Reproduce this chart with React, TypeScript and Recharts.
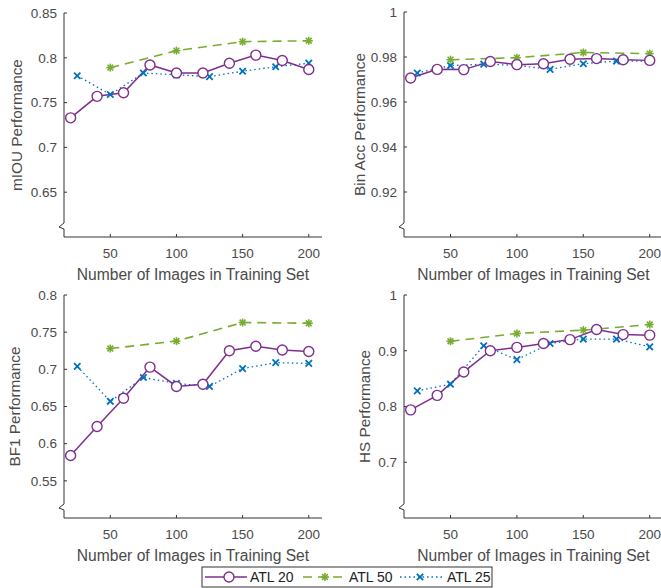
import React from "react";
import { LineChart, Line, XAxis, YAxis, ReferenceDot } from "recharts";

// x positions of each series
const X20 = [20, 40, 60, 80, 100, 120, 140, 160, 180, 200];
const X50 = [50, 100, 150, 200];
const X25 = [25, 50, 75, 100, 125, 150, 175, 200];
const X_TICKS = [50, 100, 150, 200];

// mIOU
const MIOU_20 = [0.733, 0.757, 0.761, 0.792, 0.783, 0.783, 0.794, 0.803, 0.797, 0.787];
const MIOU_50 = [0.789, 0.808, 0.818, 0.819];
const MIOU_25 = [0.78, 0.759, 0.783, 0.781, 0.779, 0.785, 0.79, 0.794];
const MIOU_TICKS = [0.65, 0.7, 0.75, 0.8, 0.85];

// Bin Acc
const BIN_20 = [0.9707, 0.9745, 0.9744, 0.978, 0.9766, 0.977, 0.979, 0.9793, 0.9788, 0.9785];
const BIN_50 = [0.9788, 0.9797, 0.982, 0.9815];
const BIN_25 = [0.9729, 0.9762, 0.9768, 0.9763, 0.9745, 0.977, 0.9782, 0.9782];
const BIN_TICKS = [0.92, 0.94, 0.96, 0.98, 1];

// BF1
const BF1_20 = [0.584, 0.623, 0.661, 0.703, 0.677, 0.68, 0.725, 0.731, 0.726, 0.724];
const BF1_50 = [0.728, 0.738, 0.763, 0.762];
const BF1_25 = [0.704, 0.657, 0.689, 0.681, 0.677, 0.701, 0.709, 0.708];
const BF1_TICKS = [0.55, 0.6, 0.65, 0.7, 0.75, 0.8];

// HS
const HS_20 = [0.794, 0.82, 0.862, 0.9, 0.906, 0.913, 0.92, 0.938, 0.929, 0.928];
const HS_50 = [0.917, 0.931, 0.937, 0.947];
const HS_25 = [0.828, 0.84, 0.909, 0.884, 0.913, 0.921, 0.921, 0.907];
const HS_TICKS = [0.7, 0.8, 0.9, 1];

const PURPLE = "#7E2F8E";
const GREEN = "#77AC30";
const BLUE = "#0072BD";
const TEXT = "#4a4a4a";
const AXIS = "#333333";
const FONT = "'Liberation Sans', Arial, sans-serif";

const zip = (xs: number[], ys: number[]) => xs.map((x, i) => ({ x, y: ys[i] }));

function Circle({ cx, cy }: any) {
  return <circle cx={cx} cy={cy} r={5} fill="#fff" stroke={PURPLE} strokeWidth={1.4} />;
}

function Star({ cx, cy }: any) {
  const s = 4;
  const d = 2.9;
  return (
    <g stroke={GREEN} strokeWidth={1.6}>
      <line x1={cx - s} y1={cy} x2={cx + s} y2={cy} />
      <line x1={cx} y1={cy - s} x2={cx} y2={cy + s} />
      <line x1={cx - d} y1={cy - d} x2={cx + d} y2={cy + d} />
      <line x1={cx - d} y1={cy + d} x2={cx + d} y2={cy - d} />
    </g>
  );
}

function Cross({ cx, cy }: any) {
  const s = 3.2;
  return (
    <g stroke={BLUE} strokeWidth={1.8}>
      <line x1={cx - s} y1={cy - s} x2={cx + s} y2={cy + s} />
      <line x1={cx - s} y1={cy + s} x2={cx + s} y2={cy - s} />
    </g>
  );
}

function Break({ cx, cy }: any) {
  return (
    <g>
      <rect x={cx - 1} y={cy - 14} width={2} height={9} fill="#fff" />
      <path
        d={`M${cx},${cy - 14} L${cx - 5},${cy - 10} L${cx},${cy - 8} L${cx},${cy - 5}`}
        fill="none"
        stroke={AXIS}
        strokeWidth={1}
      />
    </g>
  );
}

type PanelProps = {
  left: number;
  top: number;
  width: number;
  height: number;
  margin: any;
  yWidth: number;
  yLabel: string;
  yLabelOffset: number;
  domain: [number, number];
  ticks: number[];
  s20: number[];
  s50: number[];
  s25: number[];
};

function Panel(p: PanelProps) {
  const tickStyle = { fontSize: 13.5, fill: TEXT, fontFamily: FONT };
  return (
    <div style={{ position: "absolute", left: p.left, top: p.top }}>
      <LineChart width={p.width} height={p.height} margin={p.margin}>
        <XAxis
          type="number"
          dataKey="x"
          domain={[15, 210]}
          ticks={X_TICKS}
          allowDataOverflow
          height={45}
          tick={tickStyle}
          tickSize={-3}
          tickMargin={14}
          stroke={AXIS}
          label={{
            value: "Number of Images in Training Set",
            position: "insideBottom",
            offset: 2,
            style: { fontSize: 15.6, fill: TEXT, fontFamily: FONT },
          }}
        />
        <YAxis
          type="number"
          dataKey="y"
          domain={p.domain}
          ticks={p.ticks}
          allowDataOverflow
          width={p.yWidth}
          tick={tickStyle}
          tickSize={-3}
          tickMargin={10}
          stroke={AXIS}
          label={{
            value: p.yLabel,
            angle: -90,
            position: "insideLeft",
            offset: p.yLabelOffset,
            style: { fontSize: 15.3, fill: TEXT, fontFamily: FONT, textAnchor: "middle" },
          }}
        />
        <ReferenceDot
          x={15}
          y={p.domain[0]}
          r={0}
          ifOverflow="visible"
          shape={(props: any) => <Break {...props} />}
        />
        <Line
          data={zip(X25, p.s25)}
          dataKey="y"
          stroke={BLUE}
          strokeWidth={1.3}
          strokeDasharray="1.5 3"
          dot={(props: any) => <Cross key={props.index} {...props} />}
          isAnimationActive={false}
        />
        <Line
          data={zip(X50, p.s50)}
          dataKey="y"
          stroke={GREEN}
          strokeWidth={1.6}
          strokeDasharray="9 6"
          dot={(props: any) => <Star key={props.index} {...props} />}
          isAnimationActive={false}
        />
        <Line
          data={zip(X20, p.s20)}
          dataKey="y"
          stroke={PURPLE}
          strokeWidth={1.5}
          dot={(props: any) => <Circle key={props.index} {...props} />}
          isAnimationActive={false}
        />
      </LineChart>
    </div>
  );
}

function LegendBox() {
  return (
    <svg
      width={292}
      height={22}
      style={{ position: "absolute", left: 201, top: 566 }}
      fontFamily={FONT}
      fontSize={14}
    >
      <rect x={1} y={1} width={290} height={20} fill="#fff" stroke={AXIS} strokeWidth={1} />
      <line x1={4} y1={11} x2={46} y2={11} stroke={PURPLE} strokeWidth={1.5} />
      <Circle cx={28} cy={11} />
      <text x={49} y={16} fill="#222">ATL 20</text>
      <line x1={102} y1={11} x2={146} y2={11} stroke={GREEN} strokeWidth={1.6} strokeDasharray="9 6" />
      <Star cx={124} cy={11} />
      <text x={148} y={16} fill="#222">ATL 50</text>
      <line x1={199} y1={11} x2={242} y2={11} stroke={BLUE} strokeWidth={1.3} strokeDasharray="1.5 3" />
      <Cross cx={219} cy={11} />
      <text x={246} y={16} fill="#222">ATL 25</text>
    </svg>
  );
}

export default function App() {
  return (
    <div
      style={{
        position: "absolute",
        left: 0,
        top: 0,
        width: 661,
        height: 588,
        overflow: "hidden",
        background: "#fff",
      }}
    >
      <Panel
        left={0}
        top={0}
        width={330}
        height={290}
        margin={{ top: 13, right: 8, left: 0, bottom: 8 }}
        yWidth={64}
        yLabel="mIOU Performance"
        yLabelOffset={17}
        domain={[0.6, 0.85]}
        ticks={MIOU_TICKS}
        s20={MIOU_20}
        s50={MIOU_50}
        s25={MIOU_25}
      />
      <Panel
        left={330}
        top={0}
        width={340}
        height={290}
        margin={{ top: 12, right: 7, left: 0, bottom: 8 }}
        yWidth={74}
        yLabel="Bin Acc Performance"
        yLabelOffset={30}
        domain={[0.9, 1]}
        ticks={BIN_TICKS}
        s20={BIN_20}
        s50={BIN_50}
        s25={BIN_25}
      />
      <Panel
        left={0}
        top={285}
        width={330}
        height={280}
        margin={{ top: 10, right: 8, left: 0, bottom: 2 }}
        yWidth={64}
        yLabel="BF1 Performance"
        yLabelOffset={15}
        domain={[0.5, 0.8]}
        ticks={BF1_TICKS}
        s20={BF1_20}
        s50={BF1_50}
        s25={BF1_25}
      />
      <Panel
        left={330}
        top={285}
        width={340}
        height={280}
        margin={{ top: 10, right: 7, left: 0, bottom: 2 }}
        yWidth={74}
        yLabel="HS Performance"
        yLabelOffset={35}
        domain={[0.6, 1]}
        ticks={HS_TICKS}
        s20={HS_20}
        s50={HS_50}
        s25={HS_25}
      />
      <LegendBox />
    </div>
  );
}
